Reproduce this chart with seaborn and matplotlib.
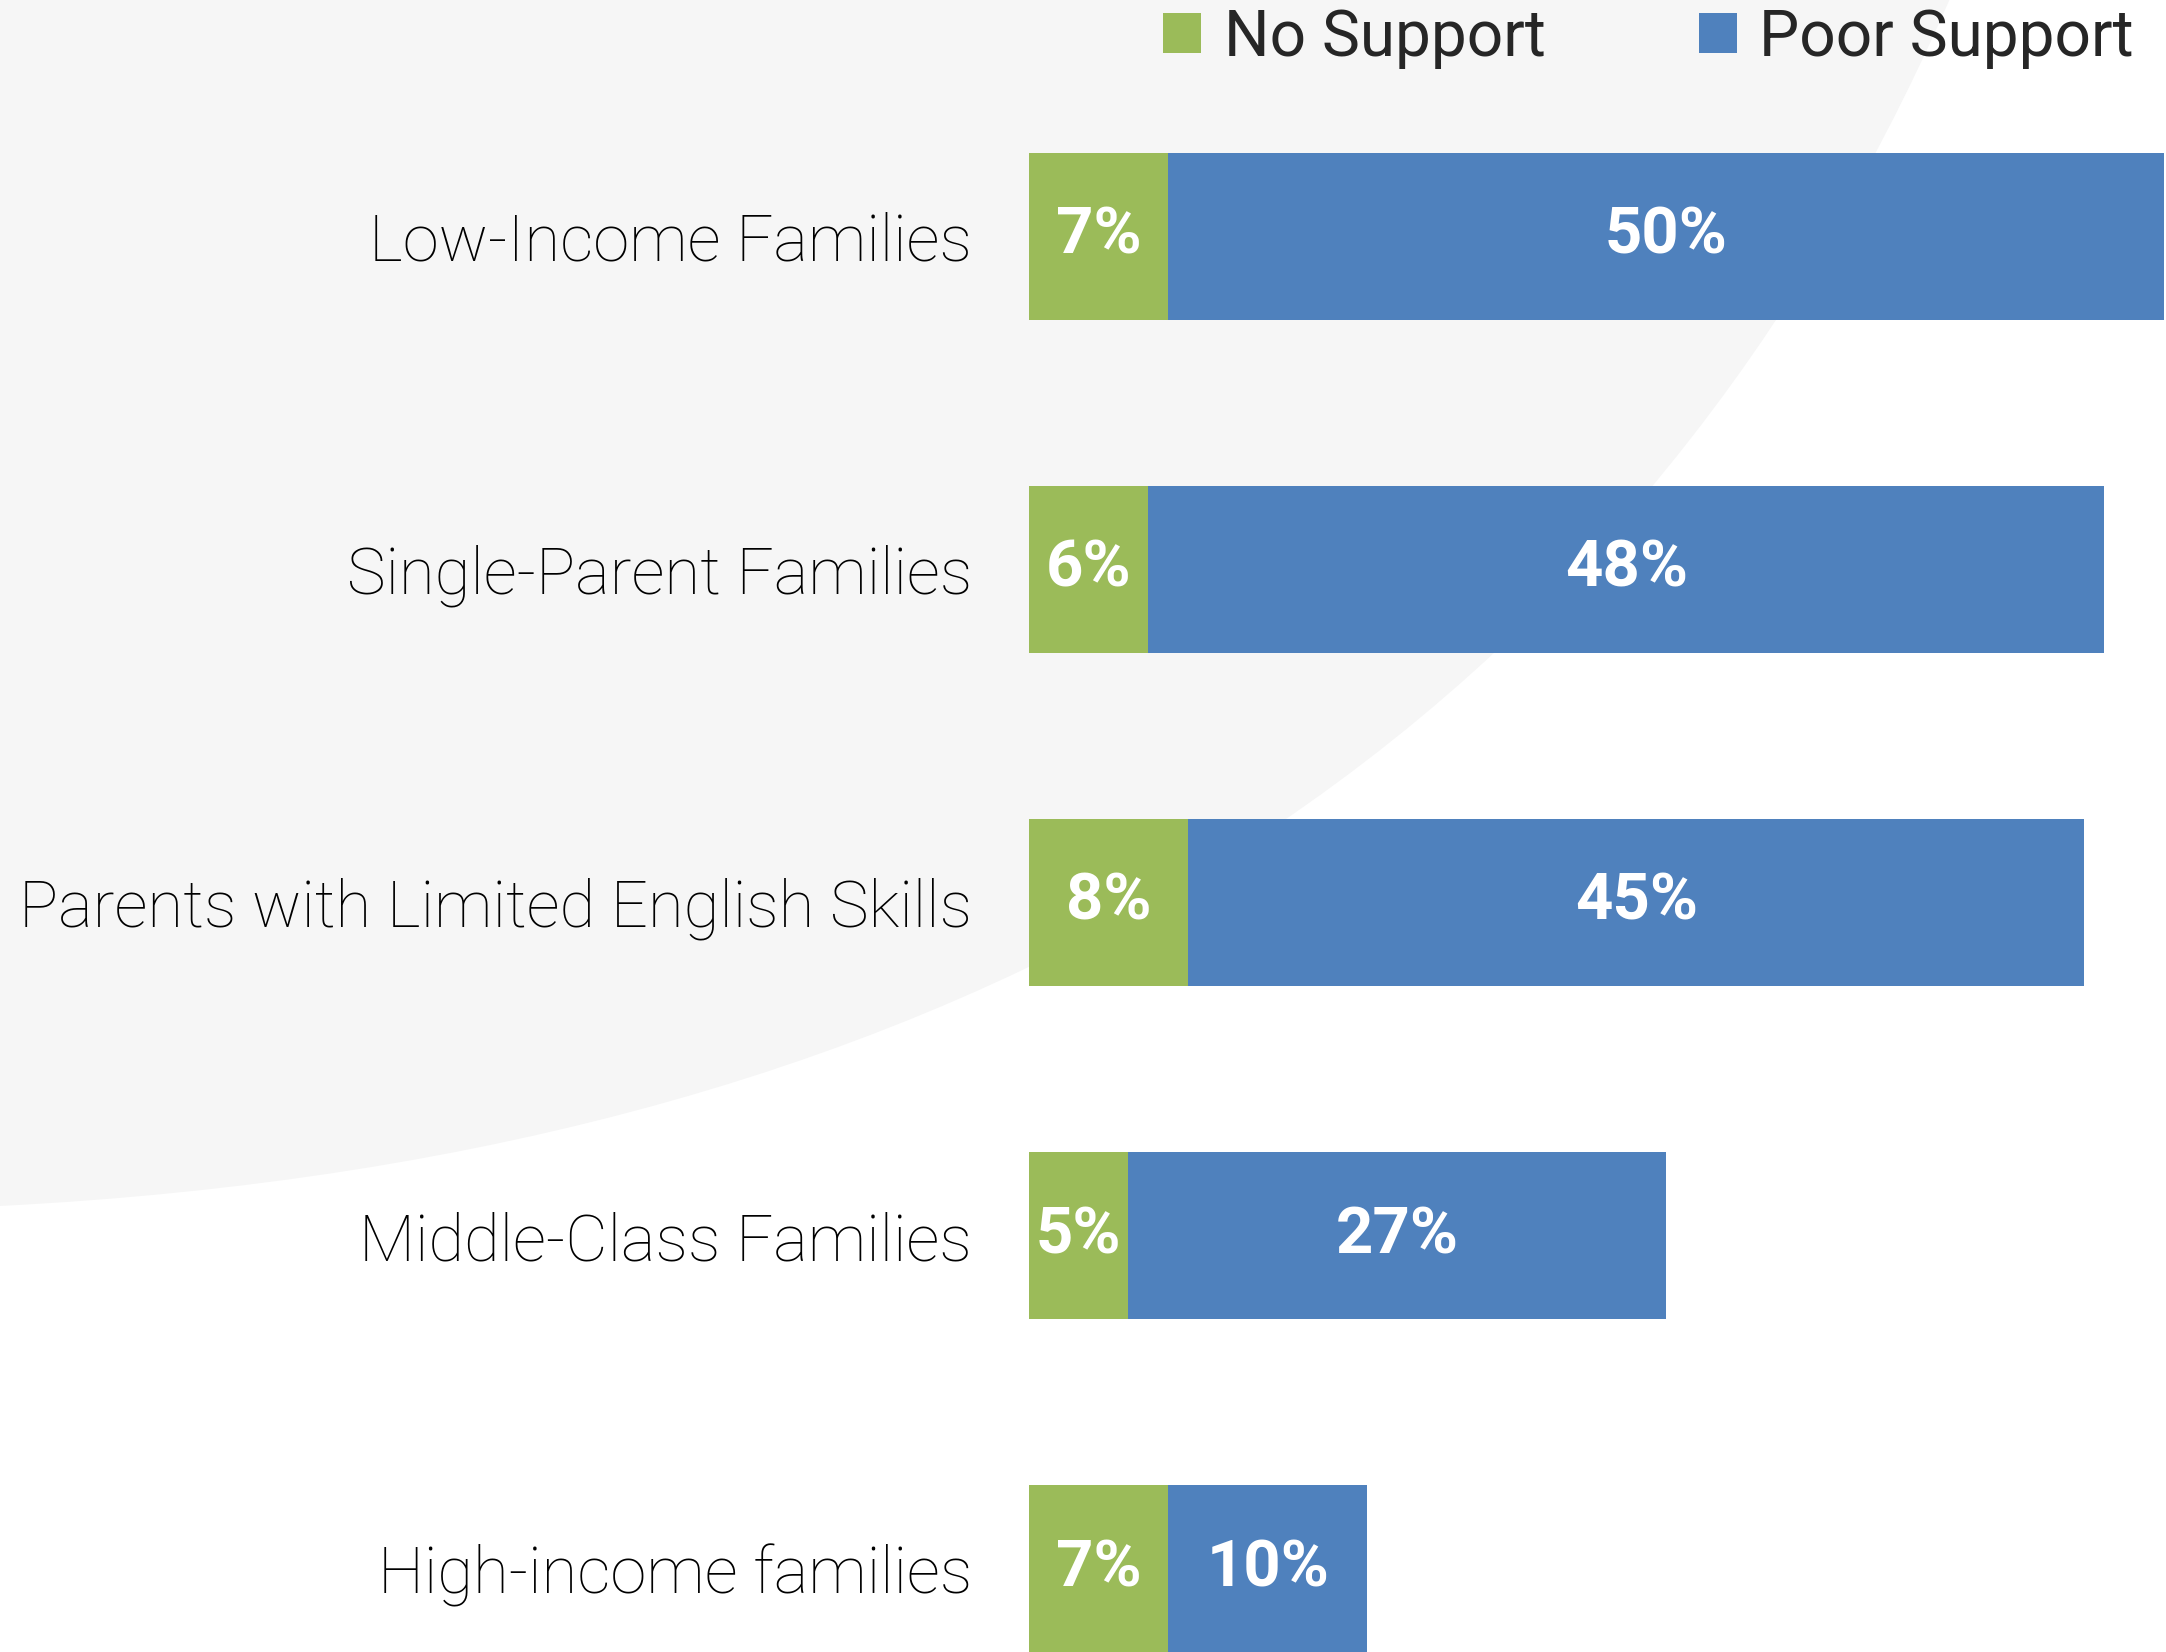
# Apoyo a familias: barras apiladas horizontales
import matplotlib
matplotlib.use("Agg")
import matplotlib.pyplot as plt
from matplotlib.patches import Patch, PathPatch
from matplotlib.path import Path
import seaborn as sns

# Datos
categories = ["Low-Income Families", "Single-Parent Families",
              "Parents with Limited English Skills", "Middle-Class Families",
              "High-income families"]
no_support = [7, 6, 8, 5, 7]
poor_support = [50, 48, 45, 27, 10]
series_names = ["No Support", "Poor Support"]

green = "#9BBB59"
blue = "#4F81BD"

sns.set_theme(style="white")
plt.rcParams["font.family"] = ["Roboto", "DejaVu Sans"]

fig = plt.figure(figsize=(21.66, 16.52), dpi=100)
fig.patch.set_facecolor("white")

# Fondo decorativo gris claro (curva suave)
verts = [(0.0, 0.27), (0.45, 0.30), (0.75, 0.55), (0.90, 1.0),
         (0.0, 1.0), (0.0, 0.27)]
codes = [Path.MOVETO, Path.CURVE4, Path.CURVE4, Path.CURVE4,
         Path.LINETO, Path.CLOSEPOLY]
fig.patches.append(PathPatch(Path(verts, codes), transform=fig.transFigure,
                             facecolor="#f6f6f6", edgecolor="none", zorder=-5))

ax = fig.add_axes([0.475, 0.0, 0.525, 0.9074])
ax.set_facecolor("none")
ax.set_zorder(1)

totals = [a + b for a, b in zip(no_support, poor_support)]
sns.barplot(x=totals, y=categories, color=blue, width=0.5, linewidth=0,
            saturation=1, ax=ax)
sns.barplot(x=no_support, y=categories, color=green, width=0.5, linewidth=0,
            saturation=1, ax=ax)

# Etiquetas de valores
for i, (g, b) in enumerate(zip(no_support, poor_support)):
    ax.text(g / 2, i, f"{g}%", ha="center", va="center", color="white",
            fontsize=47, fontweight="bold")
    ax.text(g + b / 2, i, f"{b}%", ha="center", va="center", color="white",
            fontsize=47, fontweight="bold")

ax.set_xlim(0, 57.1)
ax.set_ylim(4.25, -0.25)
ax.set_xlabel("")
ax.set_ylabel("")
ax.set_xticks([])
ax.tick_params(axis="y", length=0, pad=41)
for lbl in ax.get_yticklabels():
    lbl.set_fontsize(47)
    lbl.set_fontweight("light")
    lbl.set_color("black")
sns.despine(ax=ax, left=True, bottom=True)

handles = [Patch(facecolor=green, edgecolor="none"),
           Patch(facecolor=blue, edgecolor="none")]
fig.legend(handles, series_names, loc="upper right",
           bbox_to_anchor=(2134 / 2166, 0.996), ncol=2, frameon=False,
           fontsize=46, handlelength=0.6, handleheight=0.6,
           handletextpad=0.35, columnspacing=2.4, borderpad=0,
           borderaxespad=0)

fig.savefig("out.png", dpi=100)
